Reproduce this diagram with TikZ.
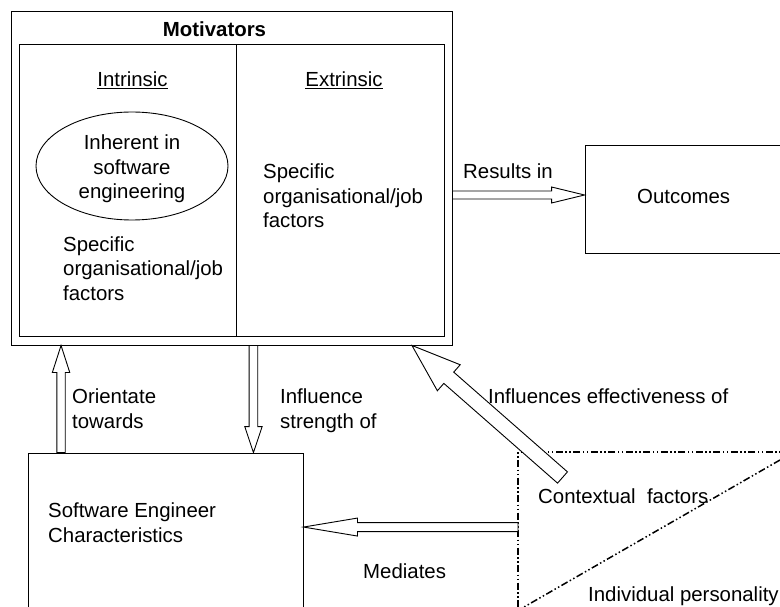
\documentclass[tikz,border=0pt]{standalone}
\usepackage{fontspec}
\setmainfont{Liberation Sans}
\usetikzlibrary{calc,shapes.geometric}

\tikzset{
  boxline/.style={draw, line width=0.9pt, inner sep=0pt},
  txt/.style={font=\fontsize{20.4}{24.5}\selectfont, inner sep=0pt, align=left},
  hollow/.style={draw, fill=white, line width=0.9pt},
  ctxline/.style={line width=1.5pt, dash pattern=on 7pt off 2.5pt on 1.5pt off 2.5pt on 1.5pt off 2.5pt}
}

% hollow block arrow: from, to, shaft half-width, head half-width, head length
\newcommand{\blockarrow}[5]{%
  \coordinate (ba) at ($(#2)!#5!(#1)$);
  \draw[hollow] ($(#1)!#3!90:(#2)$) -- ($(ba)!#3!-90:(#1)$) -- ($(ba)!#4!-90:(#1)$) -- (#2)
    -- ($(ba)!#4!90:(#1)$) -- ($(ba)!#3!90:(#1)$) -- ($(#1)!#3!-90:(#2)$) -- cycle;}

\begin{document}
\begin{tikzpicture}[x=1pt,y=-1pt]
  \useasboundingbox (0,0) rectangle (780,607);
  \clip (0,0) rectangle (780,607);

  % Motivators
  \node[boxline, minimum width=441pt, minimum height=334pt] (motiv) at (231.5,178) {};
  \node[boxline, minimum width=425pt, minimum height=292pt] (motiv-in) at (231.5,190) {};
  \draw[line width=0.9pt] (236,44) -- (236,336);
  \node[txt, font=\fontsize{20.4}{24.5}\selectfont\bfseries, anchor=base] (motiv-lbl) at (214.5,36.7) {Motivators};
  \node[txt, anchor=base] (intr) at (132.5,87) {\underline{Intrinsic}};
  \node[txt, anchor=base] (extr) at (344,87) {\underline{Extrinsic}};
  \node[boxline, txt, ellipse, align=center, minimum width=192pt, minimum height=108pt] (inh) at (132,166) {};
  \node[txt, align=center, anchor=base] (inh-lbl) at (132,198.5) {Inherent in\\software\\engineering};
  \node[txt, anchor=base west] (spec-l) at (63,300) {Specific\\organisational/job\\factors};
  \node[txt, anchor=base west] (spec-r) at (263,228) {Specific\\organisational/job\\factors};

  % Outcomes and engineer boxes (run off the page)
  \node[boxline, minimum width=215pt, minimum height=108pt] (outc) at (692.5,199) {};
  \node[txt, anchor=base west] (outc-lbl) at (637,204) {Outcomes};
  \node[boxline, minimum width=275pt, minimum height=167pt] (sec) at (165.5,536.5) {};
  \node[txt, anchor=base west] (sec-lbl) at (48,542) {Software Engineer\\Characteristics};

  % Contextual / individual frame
  \coordinate (ctx) at (518,452);
  \draw[ctxline] (790,452) -- (ctx) -- (518,615);
  \draw[ctxline] (780,460) -- (524,607);
  \node[txt, anchor=base west] (ctx-lbl) at (538,503) {Contextual~~factors};
  \node[txt, anchor=base west] (ind-lbl) at (588,601.7) {Individual personality};

  % Arrows
  \coordinate (res-e) at ([yshift=4pt]outc.west);
  \coordinate (res-s) at (motiv.east |- res-e);
  \blockarrow{res-s}{res-e}{4pt}{8pt}{33pt}
  \coordinate (ori-s) at ([xshift=33.5pt]sec.north west);
  \coordinate (ori-e) at (motiv.south -| ori-s);
  \blockarrow{ori-s}{ori-e}{4.2pt}{8.7pt}{27pt}
  \coordinate (infs-e) at ([xshift=-50pt]sec.north east);
  \coordinate (infs-s) at (motiv.south -| infs-e);
  \blockarrow{infs-s}{infs-e}{4.3pt}{8.7pt}{26pt}
  \coordinate (med-e) at ([yshift=-74.5pt]sec.north east);
  \coordinate (med-s) at (ctx |- med-e);
  \blockarrow{med-s}{med-e}{4.5pt}{9pt}{54pt}
  \coordinate (infe-e) at ([xshift=-40.5pt]motiv.south east);
  \coordinate (infe-s) at (562.5,477.5);
  \blockarrow{infe-s}{infe-e}{7.5pt}{17.3pt}{49pt}

  % Arrow labels
  \node[txt, anchor=base west] (res-lbl) at (463,179) {Results in};
  \node[txt, anchor=base west] (ori-lbl) at (72,428) {Orientate\\towards};
  \node[txt, anchor=base west] (infs-lbl) at (280,428) {Influence\\strength of};
  \node[txt, anchor=base west] (med-lbl) at (363,578) {Mediates};
  \node[txt, anchor=base west] (infe-lbl) at (488,403) {Influences effectiveness of};
\end{tikzpicture}
\end{document}
